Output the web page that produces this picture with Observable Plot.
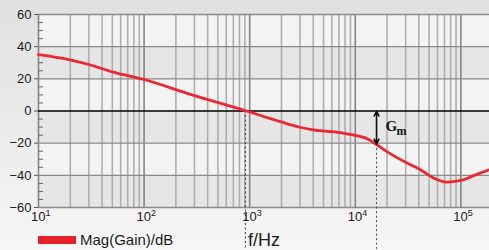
<!DOCTYPE html>
<html><head><meta charset="utf-8">
<script src="https://cdn.jsdelivr.net/npm/d3@7"></script>
<script src="https://cdn.jsdelivr.net/npm/@observablehq/plot@0.6"></script>
<style>
html,body{margin:0;padding:0;}
body{width:489px;height:250px;overflow:hidden;background:linear-gradient(to bottom,#e1e1e1 0%,#e9e9e9 45%,#f6f6f6 100%);font-family:"Liberation Sans",Arial,sans-serif;}
#wrap{position:relative;width:489px;height:250px;}
#legend{position:absolute;left:38px;top:231px;display:flex;align-items:center;font-size:15px;color:#1a1a1a;line-height:18px;}
#legend .sw{width:38px;height:8px;background:#e5222b;margin-right:4px;}
</style></head><body><div id="wrap"></div>
<script>
// Frequency response (Hz, dB)
const freqHz = [10, 19.4, 30, 52, 100, 275, 930, 1950, 3000, 4000, 7200, 9500, 13000, 16000, 21000, 31000, 41400, 55000, 73000, 100000, 132000, 186000];
const magDb  = [35.1, 32.0, 28.9, 24.0, 19.6, 10.3, 0, -6.6, -10.1, -11.8, -13.4, -14.9, -17.3, -21, -26.2, -32.4, -36.5, -41.7, -44.2, -43.2, -40.2, -36.5];

const xDomain = [10, 186700];
const yDomain = [-60, 60];
const xMajorTicks = [10, 100, 1000, 10000, 100000];
const yMajorTicks = [-60, -40, -20, 0, 20, 40, 60];
const yMinorTicks = [-55, -50, -45, -35, -30, -25, -15, -10, -5, 5, 10, 15, 25, 30, 35, 45, 50, 55];
const darkBandLow = [20, -20, -60];
const darkBandHigh = [40, 0, -40];
const crossoverHz = 910;
const gmHz = 15900;
const gmDb = -20.6;
const legendLabel = "Mag(Gain)/dB";
const xLabel = "f/Hz";

const xMinorTicks = [];
for (const d of xMajorTicks) for (let k = 2; k <= 9; k++) { if (d * k <= xDomain[1]) xMinorTicks.push(d * k); }

const curve = freqHz.map((f, i) => ({f, db: magDb[i]}));
const bands = darkBandLow.map((lo, i) => ({lo, hi: darkBandHigh[i]}));
const bottomDb = -86;

const plot = Plot.plot({
  width: 489, height: 250,
  marginLeft: 38, marginRight: 0, marginTop: 14, marginBottom: 43,
  style: {fontFamily: "Liberation Sans, Arial, sans-serif", fontSize: "13px", background: "transparent", color: "#1a1a1a", overflow: "visible"},
  x: {type: "log", domain: xDomain},
  y: {domain: yDomain},
  marks: [
    Plot.frame({fill: "#f2f3f2", stroke: null}),
    Plot.rect(bands, {y1: "lo", y2: "hi", fill: "#e5e6e5"}),
    Plot.ruleX(xMinorTicks, {stroke: "#aeaeae", strokeWidth: 1.6}),
    Plot.ruleX(xMajorTicks, {stroke: "#858585", strokeWidth: 1.6}),
    Plot.ruleY(yMajorTicks.filter(d => d !== 0), {stroke: "#8a8a8a", strokeWidth: 1.4}),
    Plot.ruleY([0], {stroke: "#000", strokeWidth: 1.4}),
    Plot.axisY({ticks: yMajorTicks, tickSize: 4, tickPadding: 3, label: null, stroke: "#555"}),
    Plot.axisY({ticks: yMinorTicks, tickSize: -5, tickFormat: () => "", label: null, stroke: "#666"}),
    Plot.axisX({ticks: xMajorTicks, tickSize: 0, tickPadding: 4, tickFormat: d => String(Math.round(Math.log10(d))), label: null}),
    Plot.ruleX([crossoverHz], {y1: 0, y2: bottomDb, stroke: "#333", strokeWidth: 1, strokeDasharray: "2,2.5"}),
    Plot.ruleX([gmHz], {y1: gmDb, y2: bottomDb, stroke: "#444", strokeWidth: 1, strokeDasharray: "2,2.5"}),
    Plot.line(curve, {x: "f", y: "db", stroke: "#ec2730", strokeWidth: 2.8, curve: "monotone-x"}),
    Plot.arrow([0], {x1: gmHz, x2: gmHz, y1: gmDb / 2, y2: 0, stroke: "#111", strokeWidth: 1.6, headLength: 8, headAngle: 50}),
    Plot.arrow([0], {x1: gmHz, x2: gmHz, y1: gmDb / 2, y2: gmDb, stroke: "#111", strokeWidth: 1.6, headLength: 8, headAngle: 50}),
    Plot.text(["G"], {x: gmHz, y: -9.3, dx: 9, textAnchor: "start", fontFamily: "Liberation Serif", fontSize: 15, fontWeight: "bold", fill: "#111"}),
    Plot.text(["m"], {x: gmHz, y: -12.8, dx: 20, textAnchor: "start", fontFamily: "Liberation Serif", fontSize: 12, fontWeight: "bold", fill: "#111"}),
    Plot.text([xLabel], {frameAnchor: "bottom", dy: 33, lineAnchor: "middle", fontSize: 18, fill: "#1a1a1a"})
  ]
});

// superscript exponents on the x tick labels ("10" + exponent)
d3.select(plot).selectAll('g[aria-label="x-axis tick label"] text').each(function() {
  const t = d3.select(this);
  const e = t.text();
  t.text(null).attr("text-anchor", "start").attr("dx", "-7.5");
  t.append("tspan").text("10");
  t.append("tspan").attr("dy", "-5").attr("font-size", "9px").text(e);
});

const wrap = document.getElementById("wrap");
wrap.appendChild(plot);
const leg = document.createElement("div");
leg.id = "legend";
leg.innerHTML = '<span class="sw"></span><span></span>';
leg.lastChild.textContent = legendLabel;
wrap.appendChild(leg);
</script></body></html>
